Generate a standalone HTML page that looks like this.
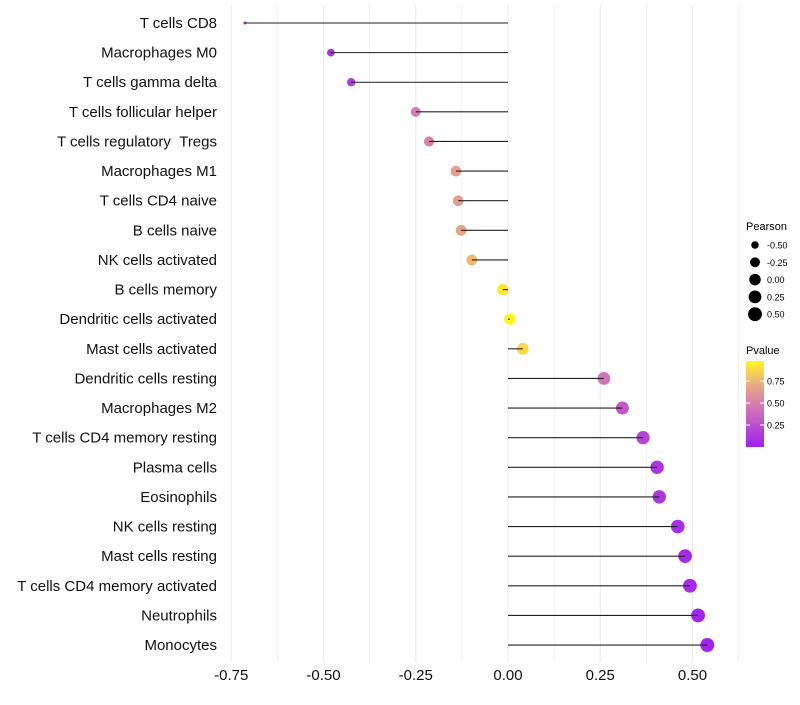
<!DOCTYPE html>
<html><head><meta charset="utf-8"><style>
body{margin:0;background:#fff;font-family:"Liberation Sans",sans-serif}
</style></head><body>
<svg id="c" width="800" height="700" xmlns="http://www.w3.org/2000/svg">
<defs><linearGradient id="pg" x1="0" y1="1" x2="0" y2="0">
<stop offset="0" stop-color="#A020F0"/><stop offset="0.5" stop-color="#D47FB0"/><stop offset="0.75" stop-color="#EBB080"/><stop offset="1" stop-color="#FFF620"/></linearGradient></defs>
<g id="grid"></g><g id="marks"></g><g id="stems"></g><g id="labels"></g><g id="legend"></g>
</svg>
<script>
const cells=["T cells CD8","Macrophages M0","T cells gamma delta","T cells follicular helper","T cells regulatory\u00a0\u00a0Tregs","Macrophages M1","T cells CD4 naive","B cells naive","NK cells activated","B cells memory","Dendritic cells activated","Mast cells activated","Dendritic cells resting","Macrophages M2","T cells CD4 memory resting","Plasma cells","Eosinophils","NK cells resting","Mast cells resting","T cells CD4 memory activated","Neutrophils","Monocytes"];
const pearson=[-0.713,-0.48,-0.425,-0.25,-0.214,-0.141,-0.135,-0.127,-0.098,-0.014,0.005,0.04,0.26,0.31,0.366,0.404,0.41,0.46,0.48,0.493,0.515,0.54];
const pvalue=[0.05,0.1,0.15,0.5,0.52,0.66,0.66,0.68,0.78,0.95,0.99,0.9,0.45,0.3,0.2,0.12,0.12,0.08,0.06,0.05,0.03,0.02];
const xTicks=[-0.75,-0.5,-0.25,0,0.25,0.5];
const xTickLabels=["-0.75","-0.50","-0.25","0.00","0.25","0.50"];
const sizeLegend=[-0.5,-0.25,0,0.25,0.5];
const sizeLegendLabels=["-0.50","-0.25","0.00","0.25","0.50"];
const pTicks=[0.25,0.5,0.75];
const pTickLabels=["0.25","0.50","0.75"];

const NS="http://www.w3.org/2000/svg";
const x=v=>508+369*v;
const y=i=>23+i*29.62;
const pmin=Math.min(...pearson),pmax=Math.max(...pearson);
const r=v=>Math.max(1.5,7*Math.pow(Math.max(0,v-pmin)/(pmax-pmin),0.35));
const stops=[[0,[160,32,240]],[0.5,[212,127,176]],[0.75,[235,176,128]],[1,[255,246,32]]];
function col(p){for(let k=1;k<stops.length;k++){if(p<=stops[k][0]){const a=stops[k-1],b=stops[k];const t=(p-a[0])/(b[0]-a[0]);return "rgb("+a[1].map((c,j)=>Math.round(c+(b[1][j]-c)*t)).join(",")+")";}}return "rgb(255,246,32)";}
function el(t,a,parent,txt){const e=document.createElementNS(NS,t);for(const k in a)e.setAttribute(k,a[k]);if(txt!==undefined)e.textContent=txt;parent.appendChild(e);return e;}
const grid=document.getElementById('grid'),marks=document.getElementById('marks'),stems=document.getElementById('stems'),labels=document.getElementById('labels'),leg=document.getElementById('legend');
for(let v=-0.75;v<=0.625;v+=0.125){const g=el('line',{x1:x(v),x2:x(v),y1:5,y2:662,stroke:'#ebebeb','stroke-width':Math.abs((v*4)%1)<1e-6?1:0.6},grid);

}
xTicks.forEach((v,i)=>{const t=el('text',{x:x(v),y:680,'font-size':15,'text-anchor':'middle',fill:'#111'},labels,xTickLabels[i]);

});
cells.forEach((c,i)=>{const t=el('text',{x:217,y:y(i)+5,'font-size':15,'text-anchor':'end',fill:'#111'},labels,c);


const d=el('circle',{cx:x(pearson[i]),cy:y(i),r:r(pearson[i]),fill:col(pvalue[i])},marks);


const l=el('line',{x1:x(0),x2:x(pearson[i]),y1:y(i),y2:y(i),stroke:'#222','stroke-width':1.1},stems);

});
const lt=el('text',{x:746,y:230,'font-size':11},leg,'Pearson');


sizeLegend.forEach((v,i)=>{const cy=245+i*17.3;
const d=el('circle',{cx:755,cy:cy,r:r(v),fill:'#000'},leg);


const t=el('text',{x:767,y:cy+3.5,'font-size':9},leg,sizeLegendLabels[i]);

});
const pt=el('text',{x:746,y:354,'font-size':11},leg,'Pvalue');


const bar=el('rect',{x:746,y:361,width:18,height:86,fill:'url(#pg)'},leg);


const py=p=>447-88*p;
pTicks.forEach((p,i)=>{el('line',{x1:746,x2:750,y1:py(p),y2:py(p),stroke:'#fff'},leg);el('line',{x1:760,x2:764,y1:py(p),y2:py(p),stroke:'#fff'},leg);
const t=el('text',{x:767,y:py(p)+3.5,'font-size':9},leg,pTickLabels[i]);

});
</script>
</body></html>
